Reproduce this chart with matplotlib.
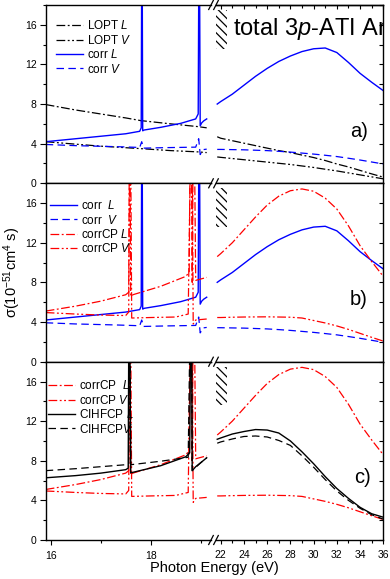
import matplotlib
matplotlib.use("Agg")
import matplotlib.pyplot as plt
from matplotlib.patches import Rectangle
from matplotlib.lines import Line2D
from matplotlib.ticker import MultipleLocator, NullFormatter

plt.rcParams["font.family"] = ["Liberation Sans", "DejaVu Sans"]
plt.rcParams["mathtext.fontset"] = "custom"
plt.rcParams["mathtext.rm"] = "Liberation Sans"
plt.rcParams["mathtext.it"] = "Liberation Sans:italic"
plt.rcParams["hatch.linewidth"] = 0.9

BLUE = "#0000ff"
RED = "#ff0000"
BLACK = "#000000"

# ---- energies above the break (eV), shared by all curves ----
e_hi = [21.7, 22, 23, 24, 25, 26, 27, 28, 29, 30, 31, 32, 33, 34, 35, 36]

# ---- LOPT ----
lopt_L_e = [15.9, 16.5, 17.0, 17.5, 17.8, 18.4, 18.95, 19.12]
lopt_L_lo = [7.95, 7.4, 7.0, 6.6, 6.33, 6.0, 5.72, 5.6]
lopt_L_hi = [4.7, 4.55, 4.3, 4.05, 3.8, 3.55, 3.3, 3.1, 2.85, 2.6, 2.3, 1.95, 1.65, 1.3, 0.95, 0.62]

lopt_V_e = [15.9, 16.5, 17.0, 17.8, 18.4, 18.95, 19.12]
lopt_V_lo = [4.2, 3.95, 3.75, 3.5, 3.3, 3.17, 3.1]
lopt_V_hi = [2.66, 2.62, 2.5, 2.38, 2.26, 2.14, 2.02, 1.9, 1.75, 1.6, 1.42, 1.25, 1.05, 0.85, 0.65, 0.45]

# ---- corr ----
corr_L_e = [15.9, 16.5, 17.0, 17.5, 17.78, 17.81, 17.825, 17.84, 17.87, 18.2, 18.6,
            18.9, 18.95, 18.97, 18.99, 19.02, 19.06, 19.12]
corr_L_lo = [4.2, 4.5, 4.75, 5.0, 5.25, 5.6, 30, 5.3, 5.38, 5.65, 6.05,
             6.5, 7.0, 30, 5.8, 6.1, 6.3, 6.5]
corr_L_hi = [8.0, 8.25, 9.0, 9.9, 10.8, 11.6, 12.3, 12.85, 13.3, 13.58, 13.66, 13.2, 12.2, 11.1, 10.2, 9.35]

corr_V_e = [15.9, 16.5, 17.3, 17.78, 17.82, 17.86, 18.3, 18.9, 18.96, 18.99, 19.05, 19.12]
corr_V_lo = [3.92, 3.8, 3.7, 3.62, 4.2, 3.55, 3.6, 3.65, 4.5, 2.9, 3.4, 3.45]
corr_V_hi = [3.42, 3.42, 3.4, 3.38, 3.34, 3.3, 3.23, 3.15, 3.05, 2.95, 2.83, 2.7, 2.53, 2.35, 2.15, 1.95]

# ---- corrCP ----
corrcp_L_e = [15.9, 16.5, 17.0, 17.5, 17.56, 17.58, 17.6, 17.65, 18.2, 18.7, 18.77,
              18.8, 18.83, 18.86, 18.9, 19.12]
corrcp_L_lo = [5.1, 5.6, 6.1, 6.75, 7.0, 30, 6.6, 6.76, 7.6, 8.6, 9.0,
               30, 8.0, 30, 8.2, 8.5]
corrcp_L_hi = [10.6, 10.9, 12.0, 13.3, 14.6, 15.8, 16.7, 17.25, 17.43, 17.2, 16.5, 15.4, 13.7, 11.7, 10.1, 8.6]

corrcp_V_e = [15.9, 16.5, 17.0, 17.5, 17.56, 17.59, 17.62, 18.0, 18.5, 18.75, 18.82,
              18.85, 18.9, 19.12]
corrcp_V_lo = [4.95, 4.8, 4.7, 4.65, 5.0, 30, 4.4, 4.45, 4.5, 4.8, 30,
               3.8, 4.2, 4.3]
corrcp_V_hi = [4.45, 4.45, 4.48, 4.5, 4.51, 4.52, 4.5, 4.48, 4.4, 4.15, 3.9, 3.6, 3.25, 2.85, 2.45, 2.07]

# ---- CIHFCP ----
cihf_L_e = [15.9, 16.5, 17.0, 17.5, 17.55, 17.57, 17.6, 18.2, 18.7, 18.78, 18.81,
            18.83, 18.9, 19.0, 19.12]
cihf_L_lo = [6.28, 6.5, 6.75, 7.1, 7.25, 30, 6.78, 7.5, 8.4, 8.8, 30,
             7.0, 7.4, 7.8, 8.3]
cihf_L_hi = [10.17, 10.3, 10.7, 10.95, 11.15, 11.1, 10.8, 10.0, 8.9, 7.7, 6.4, 5.2, 4.2, 3.3, 2.65, 2.3]

cihf_V_e = [15.9, 16.5, 17.0, 17.5, 17.56, 17.58, 17.6, 18.2, 18.75, 18.81, 18.83, 19.0, 19.12]
cihf_V_lo = [7.0, 7.2, 7.4, 7.6, 7.65, 30, 7.6, 7.95, 8.35, 30, 7.0, 7.8, 8.3]
cihf_V_hi = [9.77, 9.9, 10.2, 10.45, 10.5, 10.4, 10.05, 9.55, 8.5, 7.35, 6.1, 4.95, 4.0, 3.2, 2.55, 2.1]

DASHDOT = (0, (7, 2, 1.5, 2))
DASHDOTDOT = (0, (7, 2, 1.5, 2, 1.5, 2))
DASHED = (0, (6, 3.5))

panels = [
    [("LOPT $\\mathit{L}$", lopt_L_e, lopt_L_lo, lopt_L_hi, BLACK, DASHDOT),
     ("LOPT $\\mathit{V}$", lopt_V_e, lopt_V_lo, lopt_V_hi, BLACK, DASHDOTDOT),
     ("corr $\\mathit{L}$", corr_L_e, corr_L_lo, corr_L_hi, BLUE, "-"),
     ("corr $\\mathit{V}$", corr_V_e, corr_V_lo, corr_V_hi, BLUE, DASHED)],
    [("corr  $\\mathit{L}$", corr_L_e, corr_L_lo, corr_L_hi, BLUE, "-"),
     ("corr  $\\mathit{V}$", corr_V_e, corr_V_lo, corr_V_hi, BLUE, DASHED),
     ("corrCP $\\mathit{L}$", corrcp_L_e, corrcp_L_lo, corrcp_L_hi, RED, DASHDOT),
     ("corrCP $\\mathit{V}$", corrcp_V_e, corrcp_V_lo, corrcp_V_hi, RED, DASHDOTDOT)],
    [("corrCP  $\\mathit{L}$", corrcp_L_e, corrcp_L_lo, corrcp_L_hi, RED, DASHDOT),
     ("corrCP $\\mathit{V}$", corrcp_V_e, corrcp_V_lo, corrcp_V_hi, RED, DASHDOTDOT),
     ("CIHFCP $\\mathit{L}$", cihf_L_e, cihf_L_lo, cihf_L_hi, BLACK, "-"),
     ("CIHFCP$\\mathit{V}$", cihf_V_e, cihf_V_lo, cihf_V_hi, BLACK, DASHED)],
]
panel_tags = ["a)", "b)", "c)"]
tag_pos = [(0.855, 0.29), (0.85, 0.35), (0.876, 0.35)]
legend_x = [0.061, 0.024, 0.012]
legend_y = [0.92, 0.911, 0.901]

W, H = 390, 579
fig = plt.figure(figsize=(W / 100, H / 100), dpi=100)

xl0, xl1 = 46, 211     # pixel edges of the low-energy part
xr0, xr1 = 216, 383.3  # pixel edges of the high-energy part
tops = [5, 183.3, 361.7]
ph = 178.3

for i, curves in enumerate(panels):
    bottom = 1 - (tops[i] + ph) / H
    axl = fig.add_axes([xl0 / W, bottom, (xl1 - xl0) / W, ph / H])
    axr = fig.add_axes([xr0 / W, bottom, (xr1 - xr0) / W, ph / H])

    for label, e_lo, lo, hi, color, ls in curves:
        lw = 1.0 if ls == "-" else 0.9
        axl.plot(e_lo, lo, color=color, ls=ls, lw=lw, label=label)
        axr.plot(e_hi, hi, color=color, ls=ls, lw=lw)

    axl.set_xlim(15.906, 19.206)
    axr.set_xlim(21.595, 36)
    for ax in (axl, axr):
        ax.set_ylim(0, 18)
        for s in ax.spines.values():
            s.set_linewidth(1.0)
    axl.spines["right"].set_visible(False)
    axr.spines["left"].set_visible(False)

    axl.yaxis.set_major_locator(MultipleLocator(4))
    axl.yaxis.set_minor_locator(MultipleLocator(2))
    axl.xaxis.set_major_locator(MultipleLocator(2))
    axl.xaxis.set_minor_locator(MultipleLocator(1))
    axl.tick_params(which="both", direction="out", width=0.8, labelsize=7.5,
                    top=False, right=False, pad=2.5)
    axl.tick_params(axis="y", which="major", length=4.3)
    axl.tick_params(axis="y", which="minor", length=2.2)
    axl.tick_params(axis="x", which="major", length=3.6, pad=4)
    axl.tick_params(axis="x", which="minor", length=2.2)

    axr.yaxis.set_major_locator(MultipleLocator(2))
    axr.xaxis.set_major_locator(MultipleLocator(2))
    axr.xaxis.set_minor_locator(MultipleLocator(1))
    axr.tick_params(axis="y", which="both", direction="in", left=False, right=True,
                    labelleft=False, length=2.9, width=0.8)
    axr.tick_params(axis="x", which="both", direction="out", width=0.8,
                    labelsize=7.5, pad=4)
    axr.tick_params(axis="x", which="major", length=3.2)
    axr.tick_params(axis="x", which="minor", length=2.2)

    if i < 2:
        axl.tick_params(axis="x", labelbottom=False)
        axr.tick_params(axis="x", labelbottom=False)
    if i == 0:
        sec = axr.secondary_xaxis("top")
        sec.xaxis.set_major_locator(MultipleLocator(2))
        sec.xaxis.set_minor_locator(MultipleLocator(1))
        sec.xaxis.set_major_formatter(NullFormatter())
        sec.tick_params(which="both", direction="in", width=0.8)
        sec.tick_params(which="major", length=3.2)
        sec.tick_params(which="minor", length=2.2)
        sec.spines["top"].set_linewidth(1.0)
        axr.text(0.103, 0.832, "total 3$\\mathit{p}$-ATI Ar", transform=axr.transAxes,
                 fontsize=17, va="baseline", ha="left", clip_on=True)

    # threshold marker
    axr.add_patch(Rectangle((0, 0.756), 0.064, 0.216, transform=axr.transAxes,
                            facecolor="none", edgecolor=BLACK, lw=0,
                            hatch="\\\\\\\\", clip_on=False))

    axr.text(tag_pos[i][0], tag_pos[i][1], panel_tags[i], transform=axr.transAxes,
             fontsize=14.5, ha="center", va="center")

    axl.legend(loc="upper left", bbox_to_anchor=(legend_x[i], legend_y[i]),
               frameon=False, fontsize=8.5, handlelength=2.25, handletextpad=0.34,
               labelspacing=0.12, borderpad=0, borderaxespad=0)

    if i == 1:
        axl.set_ylabel("σ(10$^{-51}$cm$^4$ s)", fontsize=10.5)
        axl.yaxis.set_label_coords(-0.14, 0.5)

# axis break marks
for yb in [5, 183.3, 361.7, 540]:
    for xb in [xl1, xr0]:
        fig.add_artist(Line2D([(xb - 2.3) / W, (xb + 2.3) / W],
                              [1 - (yb + 4.5) / H, 1 - (yb - 4.5) / H],
                              transform=fig.transFigure, color=BLACK, lw=0.9))

fig.text((xl0 + xr1) / 2 / W, 1 - 568 / H, "Photon Energy (eV)", fontsize=10.5,
         ha="center", va="center")

fig.savefig("out.png", dpi=100)
